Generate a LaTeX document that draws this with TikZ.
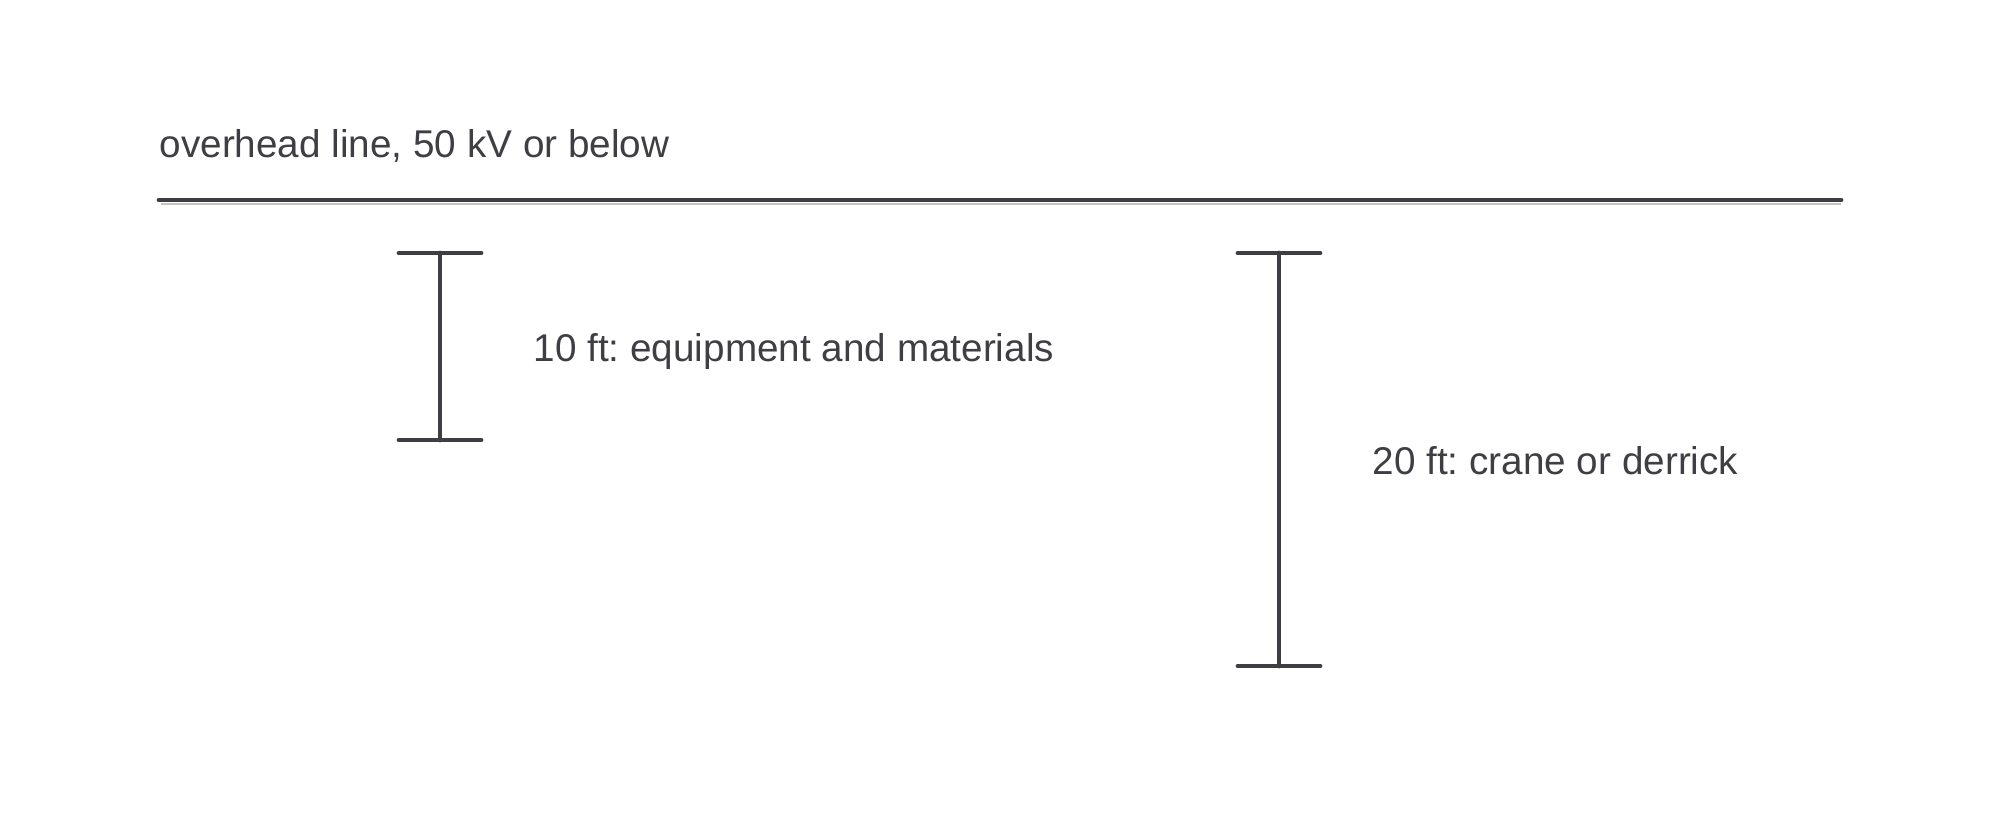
\documentclass[tikz,border=0pt]{standalone}
\usepackage{fontspec}
\setmainfont{Liberation Sans}
\usetikzlibrary{calc}
\definecolor{inkgray}{RGB}{62,62,68}
\definecolor{shadegray}{RGB}{196,196,200}
\frenchspacing

\begin{document}
\begin{tikzpicture}[x=0.01cm, y=-0.01cm,
			mark line/.style={line width=1.4pt, color=inkgray, line cap=round},
			gap label/.style={inner sep=0pt, text=inkgray, anchor=base west, font=\fontsize{11}{13}\selectfont}]
			%%%%% START %%%%%
			\useasboundingbox (0, 0) rectangle (2000, 827);
			
			\node[gap label] (linelabel) at (159, 157) {overhead line, 50 kV or below};
			\coordinate (lineleft) at (159, 200);
			\coordinate (lineright) at (1841, 200);
			\draw[line width=0.7pt, color=shadegray] ($(lineleft)+(2, 4)$) -- ($(lineright)+(0, 4)$);
			\draw[mark line] (lineleft) -- (lineright);
			
			\coordinate (tentop) at (440, 253);
			\coordinate (tenbot) at (440, 440);
			\draw[mark line] (tentop) -- (tenbot);
			\draw[mark line] ($(tentop)+(-41, 0)$) -- ($(tentop)+(41, 0)$);
			\draw[mark line] ($(tenbot)+(-41, 0)$) -- ($(tenbot)+(41, 0)$);
			\node[gap label] (tenlabel) at (533, 361) {10 ft: equipment and materials};
			
			\coordinate (twentytop) at (1279, 253);
			\coordinate (twentybot) at (1279, 666);
			\draw[mark line] (twentytop) -- (twentybot);
			\draw[mark line] ($(twentytop)+(-41, 0)$) -- ($(twentytop)+(41, 0)$);
			\draw[mark line] ($(twentybot)+(-41, 0)$) -- ($(twentybot)+(41, 0)$);
			\node[gap label] (twentylabel) at (1372, 474) {20 ft: crane or derrick};
			
			%%%%% END %%%%%
		\end{tikzpicture}
\end{document}
